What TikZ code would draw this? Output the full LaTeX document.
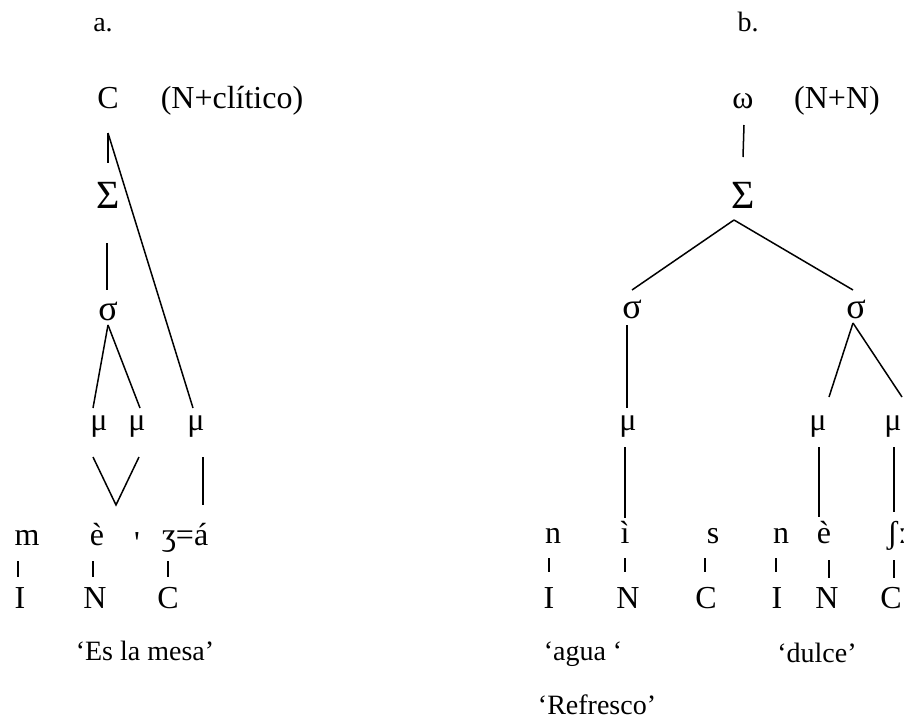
\documentclass[tikz,border=0pt]{standalone}
\usepackage{fontspec}
\setmainfont{Liberation Serif}

\begin{document}
\begin{tikzpicture}[
  x=1pt, y=-1pt,
  font=\fontsize{32}{38}\selectfont,
  lab/.style={inner sep=0pt, anchor=base},
  gloss/.style={lab, font=\fontsize{28}{34}\selectfont},
  foot/.style={lab, font=\fontsize{40}{46}\selectfont},
  syl/.style={lab, font=\fontsize{36}{42}\selectfont},
  ln/.style={line width=1.5pt},
]
\useasboundingbox (0,0) rectangle (908,725);
% tree a: N+clitic
\node[gloss] (la) at (103,32) {a.};
\node[lab] (Ca) at (108,108) {C};
\node[lab] (cla) at (232,108) {(N+clítico)};
\node[foot] (Sa) at (108,208) {Σ};
\node[syl] (sa) at (108,320) {σ};
\node[lab] (ma1) at (99,430) {μ};
\node[lab] (ma2) at (137,430) {μ};
\node[lab] (ma3) at (196,430) {μ};
\node[lab] (sg1) at (27,545) {m};
\node[lab] (sg2) at (97,545) {è};
\node[lab] (sg3) at (137,553) {\textquotesingle};
\node[lab] (sg4) at (185,545) {ʒ=á};
\node[lab] (I1) at (20,608) {I};
\node[lab] (N1) at (95,608) {N};
\node[lab] (C1) at (168,608) {C};
\node[gloss] (gla) at (145,660) {‘Es la mesa’};
\draw[ln] ([yshift=-25pt]Ca.base) -- ([yshift=45pt]Sa.base);
\draw[ln] ([yshift=-25pt]Ca.base) -- ([xshift=-3pt,yshift=22pt]ma3.base);
\draw[ln] ([xshift=-1pt,yshift=-35pt]Sa.base) -- ([xshift=-1pt,yshift=30pt]sa.base);
\draw[ln] ([yshift=-5pt]sa.base) -- ([xshift=-6pt,yshift=22pt]ma1.base);
\draw[ln] ([yshift=-5pt]sa.base) -- ([xshift=3pt,yshift=22pt]ma2.base);
\draw[ln] ([xshift=-6pt,yshift=-27pt]ma1.base) -- ([xshift=19pt,yshift=40pt]sg2.base)
  -- ([xshift=2pt,yshift=-27pt]ma2.base);
\draw[ln] ([xshift=7pt,yshift=-27pt]ma3.base) -- ([xshift=18pt,yshift=40pt]sg4.base);
% ticks a
\draw[ln] ([xshift=-9pt,yshift=-16pt]sg1.base) -- ([xshift=-2pt,yshift=31pt]I1.base);
\draw[ln] ([xshift=-4pt,yshift=-16pt]sg2.base) -- ([xshift=-2pt,yshift=31pt]N1.base);
\draw[ln] ([xshift=-17pt,yshift=-16pt]sg4.base) -- ([yshift=31pt]C1.base);

% tree b: N+N
\node[gloss] (lb) at (748,32) {b.};
\node[lab] (om) at (743,108) {ω};
\node[lab] (clb) at (837,108) {(N+N)};
\node[foot] (Sb) at (743,208) {Σ};
\node[syl] (sL) at (632,318) {σ};
\node[syl] (sR) at (856,318) {σ};
\node[lab] (mL) at (628,430) {μ};
\node[lab] (mR1) at (818,430) {μ};
\node[lab] (mR2) at (893,430) {μ};
\node[lab] (sb1) at (553,543) {n};
\node[lab] (sb2) at (625,543) {ì};
\node[lab] (sb3) at (713,543) {s};
\node[lab] (sb4) at (781,543) {n};
\node[lab] (sb5) at (824,543) {è};
\node[lab, anchor=base west] (sb6) at (887,543) {ʃː};
\node[lab] (I2) at (549,608) {I};
\node[lab] (N2) at (628,608) {N};
\node[lab] (C2) at (706,608) {C};
\node[lab] (I3) at (777,608) {I};
\node[lab] (N3) at (827,608) {N};
\node[lab] (C3) at (891,608) {C};
\node[gloss] (glb1) at (583,660) {‘agua ‘};
\node[gloss] (glb2) at (817,662) {‘dulce’};
\node[gloss] (glb3) at (597,714) {‘Refresco’};
\draw[ln] ([xshift=1pt,yshift=-17pt]om.base) -- ([yshift=51pt]Sb.base);
\draw[ln] ([xshift=-9pt,yshift=-12pt]Sb.base) -- ([yshift=28pt]sL.base);
\draw[ln] ([xshift=-9pt,yshift=-12pt]Sb.base) -- ([xshift=-3pt,yshift=28pt]sR.base);
\draw[ln] ([xshift=-5pt,yshift=-7pt]sL.base) -- ([xshift=-1pt,yshift=22pt]mL.base);
\draw[ln] ([xshift=-3pt,yshift=-17pt]mL.base) -- ([yshift=25pt]sb2.base);
\draw[ln] ([xshift=-3pt,yshift=-5pt]sR.base) -- ([xshift=11pt,yshift=33pt]mR1.base);
\draw[ln] ([xshift=-3pt,yshift=-5pt]sR.base) -- ([xshift=9pt,yshift=33pt]mR2.base);
\draw[ln] ([xshift=1pt,yshift=-17pt]mR1.base) -- ([xshift=-5pt,yshift=26pt]sb5.base);
\draw[ln] ([xshift=1pt,yshift=-17pt]mR2.base) -- ([xshift=7pt,yshift=31pt]sb6.base west);
% ticks b
\draw[ln] ([xshift=-4pt,yshift=-15pt]sb1.base) -- ([yshift=36pt]I2.base);
\draw[ln] ([yshift=-15pt]sb2.base) -- ([xshift=-3pt,yshift=36pt]N2.base);
\draw[ln] ([xshift=-8pt,yshift=-15pt]sb3.base) -- ([xshift=-1pt,yshift=36pt]C2.base);
\draw[ln] ([xshift=-5pt,yshift=-15pt]sb4.base) -- ([xshift=-1pt,yshift=36pt]I3.base);
\draw[ln] ([xshift=5pt,yshift=-17pt]sb5.base) -- ([xshift=2pt,yshift=30pt]N3.base);
\draw[ln] ([xshift=7pt,yshift=-17pt]sb6.base west) -- ([xshift=3pt,yshift=30pt]C3.base);
\end{tikzpicture}
\end{document}
